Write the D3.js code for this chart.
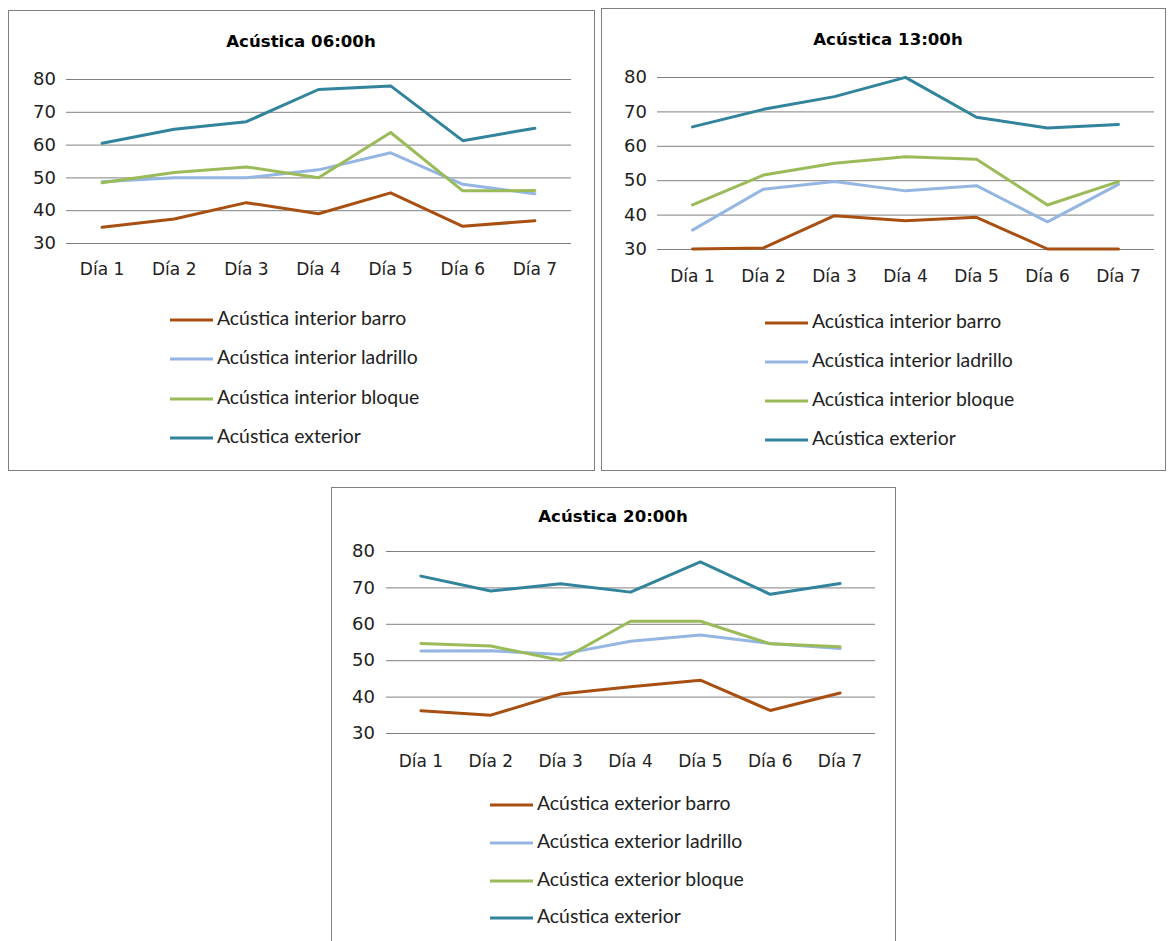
<!DOCTYPE html>
<html>
<head>
<meta charset="utf-8">
<script src="https://cdn.jsdelivr.net/npm/d3@7"></script>
<style>
  html, body { margin: 0; padding: 0; background: #fff; }
  svg { display: block; }
</style>
</head>
<body>
<svg id="chart" width="1171" height="941"></svg>
<script>
// ---------- DATA ----------
const days = ["Día 1", "Día 2", "Día 3", "Día 4", "Día 5", "Día 6", "Día 7"];
const yTicks = [30, 40, 50, 60, 70, 80];

const titles = ["Acústica 06:00h", "Acústica 13:00h", "Acústica 20:00h"];

// 06:00h
const barro06    = [34.8, 37.3, 42.3, 38.9, 45.3, 35.1, 36.8];
const ladrillo06 = [48.7, 49.9, 49.9, 52.3, 57.5, 47.9, 45.0];
const bloque06   = [48.4, 51.5, 53.2, 49.9, 63.7, 45.9, 46.0];
const exterior06 = [60.4, 64.7, 67.0, 76.8, 77.9, 61.2, 65.0];

// 13:00h
const barro13    = [30.0, 30.3, 39.7, 38.2, 39.2, 30.0, 30.0];
const ladrillo13 = [35.5, 47.4, 49.6, 46.9, 48.4, 37.9, 48.8];
const bloque13   = [42.8, 51.5, 54.9, 56.8, 56.1, 42.8, 49.6];
const exterior13 = [65.5, 70.6, 74.3, 79.9, 68.3, 65.2, 66.2];

// 20:00h
const barro20    = [36.1, 34.9, 40.7, 42.7, 44.5, 36.2, 41.0];
const ladrillo20 = [52.5, 52.6, 51.6, 55.2, 56.9, 54.6, 53.2];
const bloque20   = [54.6, 53.9, 50.0, 60.7, 60.7, 54.5, 53.7];
const exterior20 = [73.1, 69.0, 71.0, 68.7, 77.0, 68.1, 71.1];

const legendInterior = ["Acústica interior barro", "Acústica interior ladrillo", "Acústica interior bloque", "Acústica exterior"];
const legendExterior = ["Acústica exterior barro", "Acústica exterior ladrillo", "Acústica exterior bloque", "Acústica exterior"];

// ---------- STYLE / LAYOUT ----------
const colors = ["#A84F12", "#95B6E2", "#9BBB59", "#31849B"];
const svg = d3.select("#chart");

const panels = [
  { title: titles[0], series: [barro06, ladrillo06, bloque06, exterior06], legend: legendInterior,
    frame: [8, 10, 594, 470], titleX: 301, titleY: 42,
    plot: [66, 79, 571, 243], yPad: 10, xPad: 20,
    legX: 170, legY: [320, 359, 399, 438] },
  { title: titles[1], series: [barro13, ladrillo13, bloque13, exterior13], legend: legendInterior,
    frame: [601, 8, 1165, 470], titleX: 888, titleY: 40,
    plot: [657, 77, 1154, 249], yPad: 10, xPad: 21,
    legX: 765, legY: [323, 362, 401, 440] },
  { title: titles[2], series: [barro20, ladrillo20, bloque20, exterior20], legend: legendExterior,
    frame: [331, 487, 895, 950], titleX: 613, titleY: 517,
    plot: [386, 551, 875, 733], yPad: 11, xPad: 22,
    legX: 490, legY: [805, 843, 881, 918] }
];

const tickFont = "'DejaVu Sans', sans-serif";
const legendFont = "Lato, 'Open Sans', sans-serif";

panels.forEach(p => {
  const g = svg.append("g");
  const [fx0, fy0, fx1, fy1] = p.frame;
  g.append("rect")
    .attr("x", fx0 + 0.5).attr("y", fy0 + 0.5)
    .attr("width", fx1 - fx0).attr("height", fy1 - fy0)
    .attr("fill", "#fff").attr("stroke", "#7f7f7f").attr("stroke-width", 1);

  g.append("text")
    .attr("x", p.titleX).attr("y", p.titleY)
    .attr("text-anchor", "middle").attr("dominant-baseline", "middle")
    .attr("font-family", tickFont).attr("font-weight", "bold")
    .attr("font-size", 16.6).attr("fill", "#000")
    .text(p.title);

  const [px0, py0, px1, py1] = p.plot;
  const x = d3.scaleBand().domain(days).range([px0, px1]).padding(0);
  const y = d3.scaleLinear().domain([30, 80]).range([py1, py0]);

  // y axis with gridlines
  const yAx = g.append("g")
    .attr("transform", `translate(${px0},0)`)
    .call(d3.axisLeft(y).tickValues(yTicks).tickSize(-(px1 - px0)).tickPadding(p.yPad).tickFormat(d3.format("d")));
  yAx.select(".domain").remove();
  yAx.selectAll(".tick line").attr("stroke", "#808080").attr("stroke-width", 1);
  yAx.selectAll(".tick text").attr("font-family", tickFont).attr("font-size", 18).attr("fill", "#222");

  // x axis labels
  const xAx = g.append("g")
    .attr("transform", `translate(0,${py1})`)
    .call(d3.axisBottom(x).tickSize(0).tickPadding(p.xPad));
  xAx.select(".domain").remove();
  xAx.selectAll(".tick text").attr("font-family", tickFont).attr("font-size", 17).attr("fill", "#222");

  const line = d3.line()
    .x((d, i) => x(days[i]) + x.bandwidth() / 2)
    .y(d => y(d));

  p.series.forEach((s, k) => {
    g.append("path")
      .datum(s)
      .attr("d", line)
      .attr("fill", "none")
      .attr("stroke", colors[k])
      .attr("stroke-width", 3)
      .attr("stroke-linejoin", "round")
      .attr("stroke-linecap", "round");
  });

  // legend
  p.legend.forEach((name, k) => {
    const ly = p.legY[k];
    g.append("line")
      .attr("x1", p.legX).attr("x2", p.legX + 43)
      .attr("y1", ly).attr("y2", ly)
      .attr("stroke", colors[k]).attr("stroke-width", 3);
    g.append("text")
      .attr("x", p.legX + 47).attr("y", ly)
      .attr("dominant-baseline", "middle")
      .attr("font-family", legendFont).attr("font-size", 19.4).attr("fill", "#222")
      .text(name);
  });
});
</script>
</body>
</html>
